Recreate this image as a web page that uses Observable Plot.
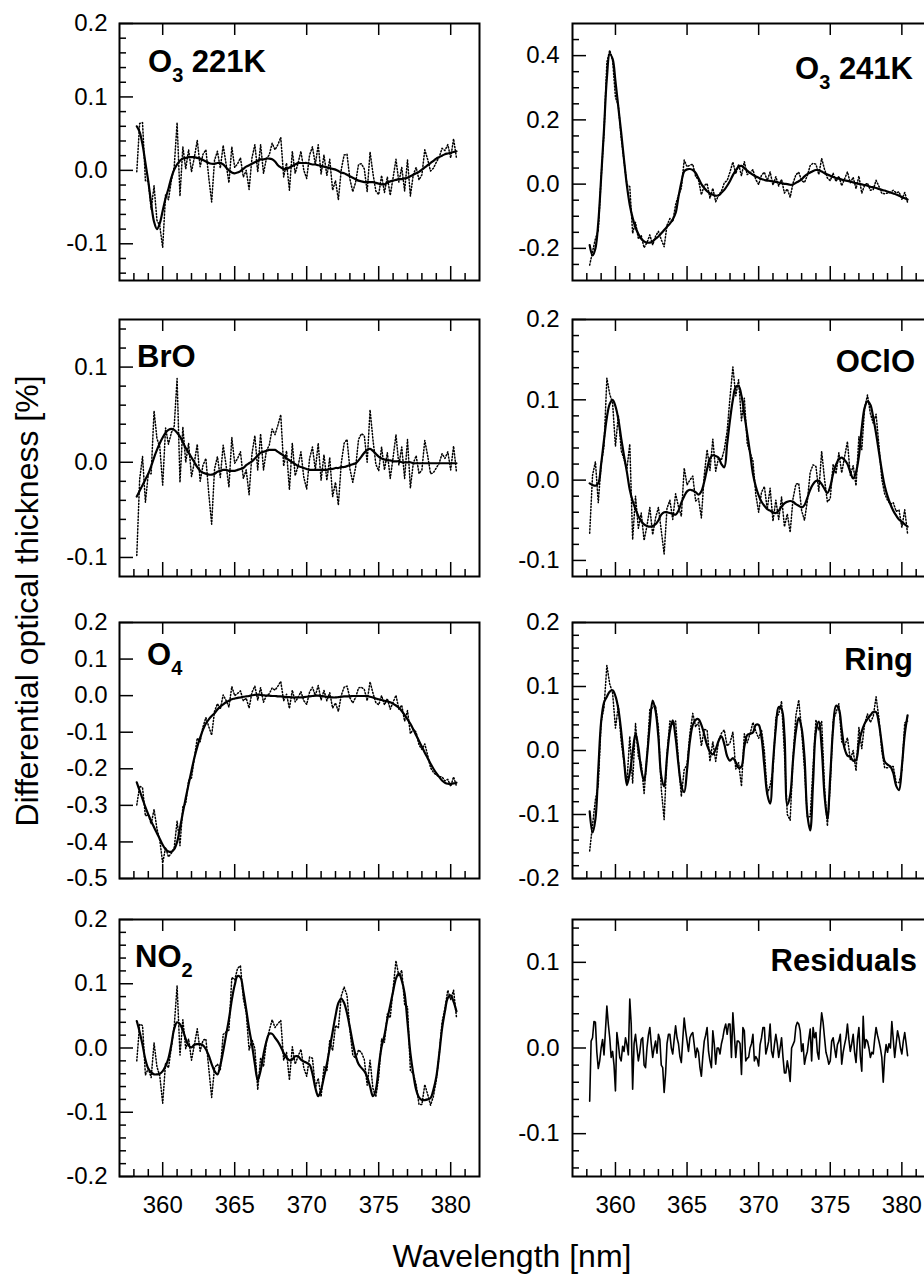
<!DOCTYPE html>
<html>
<head>
<meta charset="utf-8">
<script src="https://cdn.jsdelivr.net/npm/d3@7"></script>
<script src="https://cdn.jsdelivr.net/npm/@observablehq/plot@0.6"></script>
<style>
html, body { margin: 0; padding: 0; background: #fff; }
#fig { position: relative; width: 924px; height: 1274px; overflow: hidden; background: #fff; }
#fig > svg { position: absolute; }
</style>
</head>
<body>
<div id="fig"></div>
<script>
// ---------- sampling grids (wavelength, nm) ----------
// fitted cross sections are read every 0.2 nm, the residual every 0.1 nm
const wlStart = 358.2, fitStep = 0.2, fitCount = 112, resStep = 0.1, resCount = 223;
const wavelength = Array.from({length: fitCount}, (_, i) => +(wlStart + i * fitStep).toFixed(1));
const resWavelength = Array.from({length: resCount}, (_, i) => +(wlStart + i * resStep).toFixed(1));

// ---------- fit residual (shared by all panels), 358.2 ... 380.4 nm ----------
const residual = [
  -0.062, 0.008, 0.012, 0.031, 0.03, -0.005, -0.024, -0.015,
  0.0, 0.01, -0.008, 0.02, 0.049, 0.028, 0.012, -0.011, -0.004, -0.02,
  -0.05, 0.018, 0.005, -0.011, -0.015, 0.002, -0.004, 0.012, 0.004, -0.008,
  0.057, 0.028, -0.048, 0.005, 0.016, 0.0, -0.015, -0.005, 0.01, 0.012,
  -0.02, -0.023, 0.0, 0.015, 0.024, 0.005, -0.011, 0.0, 0.008, -0.006,
  0.016, 0.01, -0.02, -0.023, -0.052, -0.03, 0.005, 0.016, 0.016, 0.0,
  -0.007, 0.01, 0.026, 0.012, 0.005, -0.01, -0.017, 0.01, 0.035, 0.02,
  0.008, -0.004, 0.012, 0.016, 0.018, 0.004, -0.011, 0.0, -0.005, -0.023,
  -0.033, -0.01, 0.008, 0.015, 0.024, -0.004, -0.015, -0.023, 0.02, 0.005,
  -0.019, 0.0, 0.0, -0.007, 0.005, 0.012, 0.022, 0.028, 0.016, 0.028,
  0.028, -0.011, 0.041, 0.016, -0.011, 0.008, 0.008, 0.005, -0.031, 0.024,
  0.02, -0.015, -0.012, -0.011, 0.0, 0.005, 0.016, -0.015, -0.01, -0.013,
  -0.021, 0.004, 0.012, 0.024, 0.024, -0.007, 0.0, 0.008, 0.028, -0.004,
  -0.011, 0.004, 0.016, 0.005, -0.011, 0.0, 0.012, -0.011, -0.029, -0.029,
  -0.015, -0.025, -0.039, 0.0, 0.004, 0.008, 0.025, 0.03, 0.028, 0.02,
  -0.004, 0.005, -0.019, -0.01, -0.004, 0.01, 0.022, -0.015, 0.024, 0.012,
  0.018, -0.005, -0.013, 0.02, 0.041, 0.03, 0.012, -0.005, -0.011, -0.019,
  -0.015, 0.008, 0.012, 0.0, -0.011, 0.004, 0.008, 0.016, -0.019, -0.005,
  0.004, 0.012, 0.028, 0.01, -0.004, 0.005, 0.016, -0.005, -0.017, 0.01,
  0.024, -0.01, -0.027, 0.037, 0.0, 0.01, 0.008, 0.0, -0.011, -0.005,
  -0.007, 0.01, 0.024, 0.015, 0.008, 0.0, -0.011, -0.04, -0.01, 0.004,
  -0.005, 0.005, 0.0, 0.031, 0.01, -0.011, 0.005, 0.02, 0.012, 0.0,
  -0.007, 0.008, 0.018, 0.005, -0.009
];

// ---------- fitted cross sections (solid lines), 358.2 ... 380.4 nm every 0.2 nm ----------
const fit_O3_221K = [
  0.06, 0.052, 0.035, 0.01,
  -0.015, -0.045, -0.07, -0.08, -0.072,
  -0.055, -0.038, -0.025, -0.01, 0.001,
  0.008, 0.013, 0.016, 0.017, 0.018,
  0.018, 0.018, 0.017, 0.016, 0.014,
  0.012, 0.01, 0.009, 0.009, 0.01,
  0.01, 0.008, 0.004, 0.0, -0.003,
  -0.004, -0.003, -0.001, 0.002, 0.005,
  0.007, 0.009, 0.011, 0.013, 0.015,
  0.015, 0.016, 0.016, 0.015, 0.012,
  0.007, 0.004, 0.002, 0.002, 0.004,
  0.006, 0.008, 0.01, 0.01, 0.01,
  0.01, 0.009, 0.008, 0.008, 0.007,
  0.006, 0.005, 0.004, 0.003, 0.002,
  0.001, -0.001, -0.003, -0.004, -0.006,
  -0.008, -0.01, -0.012, -0.014, -0.015,
  -0.016, -0.016, -0.016, -0.016, -0.017,
  -0.018, -0.019, -0.019, -0.017, -0.015,
  -0.014, -0.013, -0.012, -0.012, -0.011,
  -0.01, -0.008, -0.006, -0.004, -0.002,
  0.001, 0.004, 0.007, 0.01, 0.013,
  0.016, 0.018, 0.02, 0.022, 0.023,
  0.024, 0.025, 0.026
];
const fit_O3_241K = [
  -0.19, -0.222, -0.2, -0.12,
  0.02, 0.17, 0.33, 0.405, 0.39,
  0.32, 0.24, 0.16, 0.075, -0.005,
  -0.065, -0.105, -0.135, -0.155, -0.17,
  -0.178, -0.182, -0.182, -0.178, -0.17,
  -0.163, -0.153, -0.143, -0.133, -0.123,
  -0.11, -0.09, -0.04, 0.005, 0.04,
  0.046, 0.047, 0.044, 0.035, 0.018,
  0.0, -0.012, -0.022, -0.029, -0.033,
  -0.036, -0.035, -0.027, -0.018, -0.005,
  0.01, 0.028, 0.043, 0.054, 0.057,
  0.05, 0.042, 0.035, 0.029, 0.024,
  0.02, 0.016, 0.013, 0.011, 0.01,
  0.008, 0.007, 0.005, 0.003, 0.001,
  0.0, -0.002, -0.001, 0.004, 0.009,
  0.015, 0.024, 0.031, 0.036, 0.041,
  0.044, 0.043, 0.039, 0.034, 0.03,
  0.026, 0.022, 0.019, 0.017, 0.014,
  0.012, 0.01, 0.008, 0.005, 0.003,
  0.001, -0.001, -0.003, -0.005, -0.008,
  -0.01, -0.012, -0.015, -0.018, -0.02,
  -0.023, -0.026, -0.029, -0.032, -0.036,
  -0.04, -0.044, -0.048
];
const fit_BrO = [
  -0.036, -0.03, -0.024, -0.018,
  -0.012, -0.004, 0.005, 0.013, 0.02,
  0.026, 0.031, 0.034, 0.035, 0.034,
  0.031, 0.027, 0.021, 0.015, 0.01,
  0.005, 0.0, -0.005, -0.009, -0.011,
  -0.012, -0.013, -0.013, -0.012, -0.01,
  -0.009, -0.008, -0.008, -0.009, -0.009,
  -0.009, -0.008, -0.007, -0.006, -0.003,
  -0.001, 0.001, 0.004, 0.007, 0.01,
  0.011, 0.012, 0.013, 0.013, 0.013,
  0.011, 0.009, 0.007, 0.004, 0.002,
  0.0, -0.002, -0.004, -0.005, -0.006,
  -0.007, -0.008, -0.008, -0.008, -0.008,
  -0.008, -0.008, -0.008, -0.007, -0.007,
  -0.006, -0.006, -0.005, -0.005, -0.004,
  -0.003, -0.002, -0.001, 0.002, 0.006,
  0.01, 0.013, 0.014, 0.012, 0.009,
  0.006, 0.004, 0.003, 0.002, 0.002,
  0.001, 0.001, 0.001, 0.0, 0.0,
  0.0, 0.0, -0.001, -0.001, -0.001,
  -0.001, -0.001, -0.001, -0.001, -0.001,
  -0.001, -0.001, -0.001, -0.001, -0.001,
  -0.001, -0.001, -0.001
];
const fit_OClO = [
  -0.004, -0.006, -0.007, -0.004,
  0.02, 0.05, 0.078, 0.095, 0.1,
  0.092, 0.076, 0.052, 0.03, 0.01,
  -0.012, -0.026, -0.036, -0.045, -0.051,
  -0.055, -0.057, -0.058, -0.057, -0.055,
  -0.05, -0.043, -0.04, -0.04, -0.041,
  -0.042, -0.043, -0.038, -0.028, -0.02,
  -0.014, -0.012, -0.013, -0.015, -0.018,
  -0.014, -0.002, 0.014, 0.027, 0.031,
  0.03, 0.028, 0.02, 0.016, 0.045,
  0.075, 0.1, 0.116, 0.117, 0.105,
  0.082, 0.058, 0.034, 0.008, -0.008,
  -0.019, -0.027, -0.032, -0.036, -0.038,
  -0.04, -0.041, -0.038, -0.033, -0.029,
  -0.027, -0.026, -0.027, -0.03, -0.032,
  -0.034, -0.031, -0.022, -0.012, -0.005,
  -0.001, -0.001, -0.005, -0.011, -0.016,
  -0.008, 0.008, 0.019, 0.026, 0.028,
  0.025, 0.02, 0.01, 0.002, 0.01,
  0.03, 0.065, 0.09, 0.098, 0.094,
  0.078, 0.058, 0.035, 0.012, -0.007,
  -0.02, -0.03, -0.038, -0.044, -0.049,
  -0.052, -0.055, -0.058
];
const fit_O4 = [
  -0.237, -0.26, -0.282, -0.305,
  -0.325, -0.343, -0.36, -0.376, -0.392,
  -0.408, -0.42, -0.426, -0.427, -0.42,
  -0.4, -0.362, -0.32, -0.28, -0.242,
  -0.205, -0.17, -0.14, -0.115, -0.093,
  -0.076, -0.065, -0.056, -0.048, -0.038,
  -0.03, -0.024, -0.018, -0.014, -0.01,
  -0.008, -0.006, -0.005, -0.003, -0.002,
  -0.001, 0.001, 0.002, 0.003, 0.002,
  0.001, 0.0, 0.0, -0.001, -0.001,
  -0.002, -0.002, -0.003, -0.004, -0.004,
  -0.005, -0.005, -0.005, -0.005, -0.004,
  -0.003, -0.002, -0.001, 0.0, 0.0,
  -0.001, -0.002, -0.003, -0.004, -0.005,
  -0.005, -0.004, -0.003, -0.002, -0.002,
  -0.002, -0.001, -0.001, -0.001, -0.001,
  -0.001, -0.001, -0.003, -0.005, -0.008,
  -0.01, -0.012, -0.014, -0.016, -0.018,
  -0.022, -0.027, -0.033, -0.042, -0.053,
  -0.065, -0.077, -0.092, -0.108, -0.124,
  -0.14, -0.156, -0.171, -0.186, -0.2,
  -0.212, -0.222, -0.232, -0.238, -0.241,
  -0.241, -0.24, -0.238
];
const fit_Ring = [
  -0.095, -0.128, -0.107, -0.03,
  0.045, 0.075, 0.084, 0.092, 0.094,
  0.085, 0.065, 0.03, -0.015, -0.054,
  -0.035, -0.003, 0.026, 0.005, -0.03,
  -0.047, -0.01, 0.04, 0.078, 0.062,
  0.02, -0.04, -0.056, -0.01, 0.03,
  0.047, 0.02, -0.022, -0.055, -0.065,
  -0.03, 0.015, 0.04, 0.048, 0.049,
  0.04, 0.025, 0.008, -0.002, -0.006,
  0.002, 0.015, 0.022, 0.01, -0.009,
  -0.016, -0.012, -0.018, -0.027, -0.025,
  0.006, 0.024, 0.026, 0.028, 0.04,
  0.04, 0.02, -0.025, -0.068, -0.083,
  -0.02, 0.035, 0.068, 0.065, 0.025,
  -0.085, -0.07, -0.015, 0.03, 0.051,
  0.035, -0.01, -0.1, -0.125, -0.05,
  0.03, 0.045, 0.005, -0.07, -0.107,
  -0.04, 0.035, 0.07, 0.065, 0.033,
  0.003, -0.008, -0.01, -0.016, -0.015,
  0.012, 0.03, 0.042, 0.049, 0.055,
  0.06, 0.06, 0.042, 0.01, -0.017,
  -0.022, -0.025, -0.035, -0.055, -0.062,
  -0.025, 0.025, 0.055
];
const fit_NO2 = [
  0.042, 0.025, 0.005, -0.018,
  -0.032, -0.038, -0.041, -0.041, -0.04,
  -0.036, -0.028, -0.016, 0.005, 0.03,
  0.04, 0.037, 0.028, 0.014, 0.004,
  0.001, 0.005, 0.006, 0.006, 0.004,
  -0.002, -0.012, -0.025, -0.036, -0.041,
  -0.027, -0.005, 0.02, 0.045, 0.075,
  0.098, 0.112, 0.11, 0.088, 0.06,
  0.03, 0.005, -0.025, -0.05, -0.035,
  -0.01, 0.01, 0.022, 0.022, 0.016,
  0.01, 0.002, -0.008, -0.015, -0.019,
  -0.018, -0.013, -0.013, -0.018, -0.021,
  -0.023, -0.026, -0.04, -0.062, -0.075,
  -0.065, -0.045, -0.025, 0.0, 0.025,
  0.05, 0.07, 0.077, 0.07, 0.054,
  0.032, 0.008, -0.012, -0.025, -0.031,
  -0.036, -0.045, -0.06, -0.075, -0.065,
  -0.03, 0.002, 0.02, 0.045, 0.066,
  0.088, 0.108, 0.116, 0.105, 0.085,
  0.04, -0.008, -0.04, -0.065, -0.077,
  -0.081, -0.081, -0.08, -0.078, -0.065,
  -0.045, -0.01, 0.03, 0.057, 0.078,
  0.082, 0.072, 0.057
];

// ---------- tick values ----------
const xMajor = [360, 365, 370, 375, 380];
const xMinor = [358, 359, 361, 362, 363, 364, 366, 367, 368, 369, 371, 372, 373, 374, 376, 377, 378, 379, 381];

const yLab_O3_221K = [-0.1, 0, 0.1, 0.2];
const yMin_O3_221K = [-0.14, -0.12, -0.08, -0.06, -0.04, -0.02, 0.02, 0.04, 0.06, 0.08, 0.12, 0.14, 0.16, 0.18];
const yLab_O3_241K = [-0.2, 0, 0.2, 0.4];
const yMin_O3_241K = [-0.25, -0.15, -0.1, -0.05, 0.05, 0.1, 0.15, 0.25, 0.3, 0.35, 0.45];
const yLab_BrO = [-0.1, 0, 0.1];
const yMin_BrO = [-0.08, -0.06, -0.04, -0.02, 0.02, 0.04, 0.06, 0.08, 0.12, 0.14];
const yLab_OClO = [-0.1, 0, 0.1, 0.2];
const yMin_OClO = [-0.08, -0.06, -0.04, -0.02, 0.02, 0.04, 0.06, 0.08, 0.12, 0.14, 0.16, 0.18];
const yLab_O4 = [-0.5, -0.4, -0.3, -0.2, -0.1, 0, 0.1, 0.2];
const yMin_O4 = [];
const yLab_Ring = [-0.2, -0.1, 0, 0.1, 0.2];
const yMin_Ring = [-0.18, -0.16, -0.14, -0.12, -0.08, -0.06, -0.04, -0.02, 0.02, 0.04, 0.06, 0.08, 0.12, 0.14, 0.16, 0.18];
const yLab_NO2 = [-0.2, -0.1, 0, 0.1, 0.2];
const yMin_NO2 = [-0.18, -0.16, -0.14, -0.12, -0.08, -0.06, -0.04, -0.02, 0.02, 0.04, 0.06, 0.08, 0.12, 0.14, 0.16, 0.18];
const yLab_Res = [-0.1, 0, 0.1];
const yMin_Res = [-0.14, -0.12, -0.08, -0.06, -0.04, -0.02, 0.02, 0.04, 0.06, 0.08, 0.12, 0.14];

// ---------- texts ----------
const panelLabels = [["O", "3", " 221K"], ["O", "3", " 241K"], ["BrO"], ["OClO"], ["O", "4"], ["Ring"], ["NO", "2"], ["Residuals"]];
const xTitle = "Wavelength [nm]";
const yTitle = "Differential optical thickness [%]";

// ---------- layout ----------
const colFrames = [{left: 119, width: 360}, {left: 572, width: 358}];
const rowFrames = [{top: 23, bottom: 280}, {top: 319, bottom: 576}, {top: 622, bottom: 878}, {top: 919, bottom: 1176}];

const panels = [
  {col: 0, row: 0, domain: [-0.15, 0.2], yLab: yLab_O3_221K, yMin: yMin_O3_221K, fit: fit_O3_221K, anchor: "start", lx: 148, ly: 72, pad: 12},
  {col: 1, row: 0, domain: [-0.3, 0.5], yLab: yLab_O3_241K, yMin: yMin_O3_241K, fit: fit_O3_241K, anchor: "end", lx: 913, ly: 79, pad: 13},
  {col: 0, row: 1, domain: [-0.12, 0.15], yLab: yLab_BrO, yMin: yMin_BrO, fit: fit_BrO, anchor: "start", lx: 137, ly: 367, pad: 12},
  {col: 1, row: 1, domain: [-0.12, 0.2], yLab: yLab_OClO, yMin: yMin_OClO, fit: fit_OClO, anchor: "end", lx: 915, ly: 372, pad: 13},
  {col: 0, row: 2, domain: [-0.5, 0.2], yLab: yLab_O4, yMin: yMin_O4, fit: fit_O4, anchor: "start", lx: 147, ly: 665, pad: 12},
  {col: 1, row: 2, domain: [-0.2, 0.2], yLab: yLab_Ring, yMin: yMin_Ring, fit: fit_Ring, anchor: "end", lx: 913, ly: 670, pad: 13},
  {col: 0, row: 3, domain: [-0.2, 0.2], yLab: yLab_NO2, yMin: yMin_NO2, fit: fit_NO2, anchor: "start", lx: 135, ly: 967, pad: 12},
  {col: 1, row: 3, domain: [-0.15, 0.15], yLab: yLab_Res, yMin: yMin_Res, fit: null, anchor: "end", lx: 917, ly: 971, pad: 13}
];

const FONT = '"Liberation Sans", Arial, Helvetica, sans-serif';
const fig = document.getElementById("fig");

panels.forEach((p) => {
  const cf = colFrames[p.col], rf = rowFrames[p.row];
  const plotW = cf.width, plotH = rf.bottom - rf.top;
  const mL = 110, mR = 10, mT = 12, mB = p.row === 3 ? 50 : 12;
  // measured (dotted) = fitted cross section + residual at the same wavelength
  const fitData = p.fit ? wavelength.map((w, i) => ({w, fit: p.fit[i], meas: p.fit[i] + residual[2 * i]})) : [];
  const resData = resWavelength.map((w, i) => ({w, res: residual[i]}));
  const tk = {stroke: "#000", strokeWidth: 1.5};
  const marks = [
    Plot.tickY(p.yMin, {y: (d) => d, insetRight: plotW - 7, ...tk}),
    Plot.tickY(p.yLab, {y: (d) => d, insetRight: plotW - 14, ...tk}),
    Plot.tickX(xMinor, {x: (d) => d, insetTop: plotH - 7, ...tk}),
    Plot.tickX(xMajor, {x: (d) => d, insetTop: plotH - 14, ...tk}),
    Plot.tickX(xMajor, {x: (d) => d, insetBottom: plotH - 12, ...tk}),
    Plot.axisY(p.yLab, {anchor: "left", tickSize: 0, tickPadding: p.pad, tickFormat: (d) => d.toFixed(1), label: null, fontSize: 24})
  ];
  if (p.row === 3) {
    marks.push(Plot.axisX(xMajor, {anchor: "bottom", tickSize: 0, tickPadding: 19, tickFormat: (d) => String(d), label: null, fontSize: 24}));
  }
  if (p.fit) {
    marks.push(Plot.line(fitData, {x: "w", y: "meas", stroke: "#000", strokeWidth: 1.5, strokeDasharray: "1.2,2"}));
    marks.push(Plot.line(fitData, {x: "w", y: "fit", stroke: "#000", strokeWidth: 2.2, curve: "catmull-rom"}));
  } else {
    marks.push(Plot.line(resData, {x: "w", y: "res", stroke: "#000", strokeWidth: 1.6}));
  }
  marks.push(Plot.frame({stroke: "#000", strokeWidth: 2}));

  const svg = Plot.plot({
    width: mL + plotW + mR,
    height: mT + plotH + mB,
    marginLeft: mL, marginRight: mR, marginTop: mT, marginBottom: mB,
    x: {domain: [357, 382], axis: null, label: null},
    y: {domain: p.domain, label: null},
    style: {fontFamily: FONT, fontSize: "24px", color: "#000", background: "transparent", overflow: "visible"},
    marks
  });
  svg.style.left = (cf.left - mL) + "px";
  svg.style.top = (rf.top - mT) + "px";
  svg.style.maxWidth = "none";
  fig.appendChild(svg);
});

// ---------- overlay texts: panel labels and axis titles ----------
const ov = d3.select(fig).append("svg")
  .attr("width", 924).attr("height", 1274)
  .style("left", "0px").style("top", "0px").style("pointer-events", "none")
  .attr("font-family", FONT);

panels.forEach((p, k) => {
  const parts = panelLabels[k];
  const t = ov.append("text")
    .attr("x", p.lx).attr("y", p.ly)
    .attr("text-anchor", p.anchor)
    .attr("font-size", 31).attr("font-weight", "bold").attr("fill", "#000");
  t.append("tspan").text(parts[0]);
  if (parts.length > 1) {
    t.append("tspan").attr("font-size", 20).attr("dy", 10).text(parts[1]);
    if (parts.length > 2) t.append("tspan").attr("dy", -10).text(parts[2]);
  }
});

ov.append("text")
  .attr("x", 512).attr("y", 1267)
  .attr("text-anchor", "middle").attr("font-size", 32).attr("fill", "#000")
  .text(xTitle);

ov.append("text")
  .attr("transform", "translate(38,601) rotate(-90)")
  .attr("text-anchor", "middle").attr("font-size", 32).attr("fill", "#000")
  .text(yTitle);
</script>
</body>
</html>
